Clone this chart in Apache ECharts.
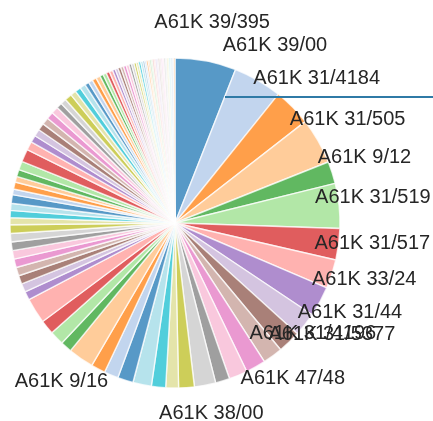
<!DOCTYPE html>
<html>
<head>
<meta charset="utf-8">
<script src="https://cdn.jsdelivr.net/npm/echarts@6/dist/echarts.min.js"></script>
<style>
  html, body { margin: 0; padding: 0; background: #ffffff; }
  #chart { width: 433px; height: 421px; }
</style>
</head>
<body>
<div id="chart"></div>
<script>
// Patent classification codes, clockwise from 12 o'clock; '' = slice without a label
const codes = [
  'A61K 39/395', 'A61K 39/00', 'A61K 31/4184', 'A61K 31/505', 'A61K 9/12',
  'A61K 31/519', 'A61K 31/517', 'A61K 33/24', 'A61K 31/44', 'A61K 31/5377',
  'A61K 31/4196', 'A61K 47/48', '', '', '', 'A61K 38/00', '', '', '', '',
  '', '', '', 'A61K 9/16', '', '', '', '', '', '',
  '', '', '', '', '', '', '', '', '', '',
  '', '', '', '', '', '', '', '', '', '',
  '', '', '', '', '', '', '', '', '', '',
  '', '', '', '', '', '', '', '', '', '',
  '', '', '', '', '', '', '', '', '', '',
  '', '', '', '', '', '', '', '', '', '',
  '', '', ''
];

// Document counts per code
const counts = [
  215, 172, 133, 162, 78, 158, 110, 102, 106, 84,
  80, 70, 70, 65, 50, 75, 55, 45, 50, 65,
  55, 50, 50, 90, 40, 50, 50, 90, 30, 30,
  30, 30, 30, 30, 30, 30, 30, 25, 25, 25,
  30, 20, 25, 20, 25, 30, 45, 30, 25, 25,
  25, 25, 25, 25, 20, 20, 25, 20, 20, 20,
  15, 15, 15, 15, 12, 12, 12, 12, 10, 10,
  10, 10, 10, 10, 9, 9, 8, 8, 8, 8,
  6, 6, 6, 6, 5, 5, 5, 5, 5, 5,
  5, 5, 5, 5, 5, 5, 4, 4, 4, 4,
  4, 4, 4
];

// Twenty-colour categorical palette, cycled over the slices
const palette = [
  '#1f77b4', '#aec7e8', '#ff7f0e', '#ffbb78', '#2ca02c', '#98df8a',
  '#d62728', '#ff9896', '#9467bd', '#c5b0d5', '#8c564b', '#c49c94',
  '#e377c2', '#f7b6d2', '#7f7f7f', '#c7c7c7', '#bcbd22', '#dbdb8d',
  '#17becf', '#9edae5'
];

// Two neighbouring labels are set on one shared line
const labelLift = { 'A61K 31/5377': -6, 'A61K 31/4196': -28 };

const chart = echarts.init(document.getElementById('chart'), null, { renderer: 'canvas' });

const wedges = counts.map((v, i) => ({
  name: codes[i] || ('#' + (i + 1)),
  value: v,
  itemStyle: { color: palette[i % palette.length] }
}));

const labelRing = counts.map((v, i) => {
  const txt = codes[i];
  return {
    name: txt || ('#' + (i + 1)),
    value: v,
    label: { show: !!txt }
  };
});

chart.setOption({
  animation: false,
  backgroundColor: '#ffffff',
  series: [
    {
      type: 'pie',
      center: [175, 223],
      radius: [0, 165],
      startAngle: 90,
      clockwise: true,
      avoidLabelOverlap: false,
      silent: true,
      label: { show: false },
      labelLine: { show: false },
      itemStyle: { borderColor: '#ffffff', borderWidth: 1.4, opacity: 0.75 },
      emphasis: { disabled: true },
      data: wedges
    },
    {
      type: 'pie',
      center: [175, 218],
      radius: [188, 204],
      startAngle: 90,
      clockwise: true,
      avoidLabelOverlap: false,
      silent: true,
      z: 5,
      itemStyle: { color: 'rgba(0,0,0,0)', borderWidth: 0 },
      label: {
        position: 'inside',
        formatter: '{b}',
        fontSize: 20,
        fontFamily: '"Liberation Sans", Arial, sans-serif',
        color: '#262626',
        rotate: 0
      },
      labelLayout: (p) => ({
        hideOverlap: false,
        moveOverlap: null,
        dy: labelLift[p.text] || 0
      }),
      labelLine: { show: false },
      emphasis: { disabled: true },
      data: labelRing
    }
  ],
  graphic: [
    {
      type: 'line',
      z: 10,
      shape: { x1: 225, y1: 97, x2: 433, y2: 97 },
      style: { stroke: '#2f7aa6', lineWidth: 2 }
    }
  ]
});
</script>
</body>
</html>
